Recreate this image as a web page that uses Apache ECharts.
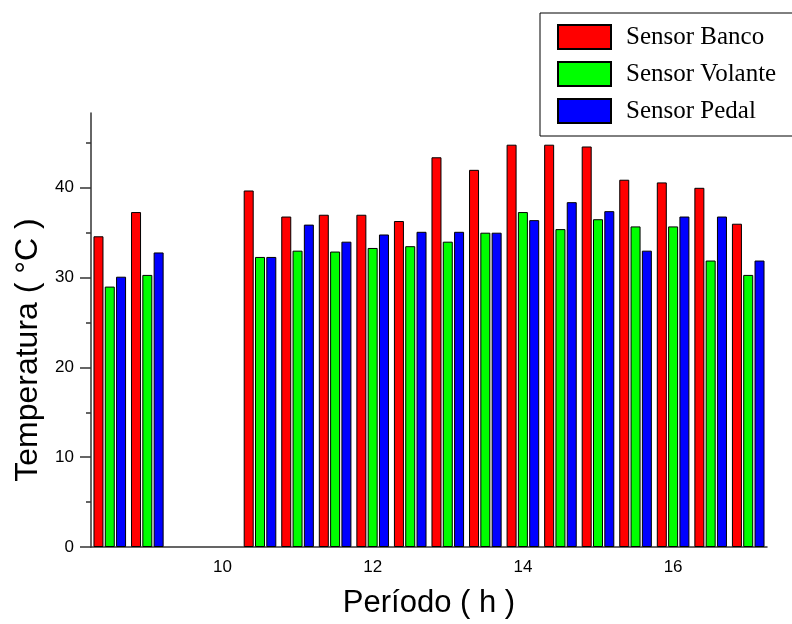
<!DOCTYPE html>
<html>
<head>
<meta charset="utf-8">
<script src="https://cdn.jsdelivr.net/npm/echarts@6/dist/echarts.min.js"></script>
<style>
html, body { margin: 0; padding: 0; background: #fff; }
#chart { width: 792px; height: 624px; }
</style>
</head>
<body>
<div id="chart"></div>
<script>
// horas (a cada meia hora), 9.5 e 10 sem leitura
var hours = ['8.5','9','9.5','10','10.5','11','11.5','12','12.5','13','13.5','14','14.5','15','15.5','16','16.5','17'];
var labelHours = ['10','12','14','16'];
var tickHours = ['9','11','13','15','17'];

var sensorBanco   = [34.6, 37.3, null, null, 39.7, 36.8, 37.0, 37.0, 36.3, 43.4, 42.0, 44.8, 44.8, 44.6, 40.9, 40.6, 40.0, 36.0];
var sensorVolante = [29.0, 30.3, null, null, 32.3, 33.0, 32.9, 33.3, 33.5, 34.0, 35.0, 37.3, 35.4, 36.5, 35.7, 35.7, 31.9, 30.3];
var sensorPedal   = [30.1, 32.8, null, null, 32.3, 35.9, 34.0, 34.8, 35.1, 35.1, 35.0, 36.4, 38.4, 37.4, 33.0, 36.8, 36.8, 31.9];

var yTicks = [0, 10, 20, 30, 40];
var yMinorTicks = [5, 15, 25, 35, 45];
var yMax = 48.33;

var axisColor = '#333';
var tickFont = '"Liberation Sans Narrow", "Liberation Sans", Arial, sans-serif';
var titleFont = '"Liberation Sans", Arial, sans-serif';

function makeBar(name, data, color) {
    return {
        name: name,
        type: 'bar',
        data: data,
        barWidth: 10,
        barGap: '13%',
        itemStyle: {
            color: color,
            borderColor: '#000',
            borderWidth: 1
        }
    };
}

var myChart = echarts.init(document.getElementById('chart'));
var option = {
    backgroundColor: '#fff',
    animation: false,
    grid: {
        left: 91,
        right: 25,
        top: 113,
        bottom: 76
    },
    legend: {
        orient: 'vertical',
        left: 540,
        top: 13,
        padding: [11, 60, 12, 17],
        icon: 'rect',
        itemWidth: 53,
        itemHeight: 24,
        itemGap: 11,
        borderColor: '#000',
        borderWidth: 1,
        textStyle: {
            fontFamily: '"Liberation Serif", "Times New Roman", serif',
            fontSize: 25,
            color: '#000',
            padding: [0, 0, 0, 10]
        },
        data: ['Sensor Banco', 'Sensor Volante', 'Sensor Pedal']
    },
    xAxis: {
        type: 'category',
        data: hours,
        boundaryGap: true,
        name: 'Período ( h )',
        nameLocation: 'middle',
        nameGap: 41,
        nameTextStyle: {
            fontFamily: titleFont,
            fontSize: 31,
            color: '#000'
        },
        axisLine: { lineStyle: { color: axisColor, width: 1.5 } },
        axisTick: {
            alignWithLabel: true,
            length: 6,
            lineStyle: { color: axisColor, width: 1.5 },
            interval: function (idx, val) { return tickHours.indexOf(val) >= 0; }
        },
        axisLabel: {
            margin: 12,
            fontFamily: tickFont,
            fontSize: 17,
            color: '#000',
            interval: function (idx, val) { return labelHours.indexOf(val) >= 0; }
        },
        splitLine: { show: false }
    },
    yAxis: [
        {
            type: 'value',
            min: 0,
            max: yMax,
            interval: 10,
            name: 'Temperatura ( °C )',
            nameLocation: 'middle',
            nameGap: 42,
            nameTextStyle: {
                fontFamily: titleFont,
                fontSize: 32,
                color: '#000',
                padding: [0, 40, 0, 0]
            },
            axisLine: { show: true, lineStyle: { color: axisColor, width: 1.5 } },
            axisTick: {
                show: true,
                length: 11,
                customValues: yTicks,
                lineStyle: { color: axisColor, width: 1.5 }
            },
            axisLabel: {
                margin: 17,
                customValues: yTicks,
                fontFamily: tickFont,
                fontSize: 17,
                color: '#000'
            },
            splitLine: { show: false }
        },
        {
            type: 'value',
            min: 0,
            max: yMax,
            position: 'left',
            offset: 0,
            axisLine: { show: false },
            axisTick: {
                show: true,
                length: 5,
                customValues: yMinorTicks,
                lineStyle: { color: axisColor, width: 1.5 }
            },
            axisLabel: { show: false },
            splitLine: { show: false }
        }
    ],
    series: [
        makeBar('Sensor Banco', sensorBanco, '#FF0000'),
        makeBar('Sensor Volante', sensorVolante, '#00FF00'),
        makeBar('Sensor Pedal', sensorPedal, '#0000FF')
    ]
};
myChart.setOption(option);
</script>
</body>
</html>
